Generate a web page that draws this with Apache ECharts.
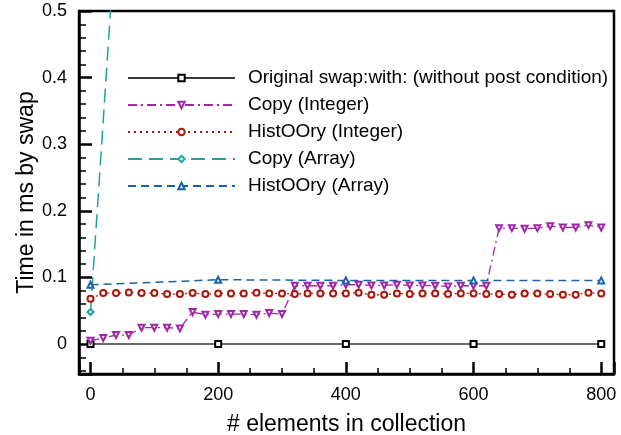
<!DOCTYPE html>
<html>
<head>
<meta charset="utf-8">
<script src="https://cdn.jsdelivr.net/npm/echarts@6/dist/echarts.min.js"></script>
<style>
  html, body { margin: 0; padding: 0; background: #fff; }
  #chart { width: 621px; height: 435px; }
</style>
</head>
<body>
<div id="chart"></div>
<script>
// x positions (number of elements)
var xFine = [0, 20, 40, 60, 80, 100, 120, 140, 160, 180, 200, 220, 240, 260, 280, 300,
  320, 340, 360, 380, 400, 420, 440, 460, 480, 500, 520, 540, 560, 580, 600, 620,
  640, 660, 680, 700, 720, 740, 760, 780, 800];
var xCoarse = [0, 200, 400, 600, 800];

// time in ms by swap
var originalSwap = [0, 0, 0, 0, 0];
var copyInteger = [0.005, 0.009, 0.0135, 0.0135, 0.0245, 0.0245, 0.0245, 0.0235, 0.048, 0.044,
  0.045, 0.045, 0.045, 0.044, 0.0465, 0.045, 0.0875, 0.0875, 0.0875, 0.0875,
  0.089, 0.089, 0.088, 0.088, 0.089, 0.088, 0.088, 0.0875, 0.0865, 0.0875,
  0.0875, 0.0875, 0.174, 0.174, 0.173, 0.174, 0.177, 0.175, 0.175, 0.1785, 0.175];
var histInteger = [0.068, 0.0765, 0.0765, 0.0775, 0.0765, 0.0765, 0.075, 0.075, 0.0765, 0.075,
  0.076, 0.076, 0.076, 0.077, 0.076, 0.076, 0.075, 0.076, 0.076, 0.076,
  0.076, 0.077, 0.074, 0.074, 0.076, 0.075, 0.076, 0.076, 0.075, 0.076,
  0.076, 0.075, 0.075, 0.074, 0.076, 0.076, 0.075, 0.074, 0.074, 0.077, 0.076];
var copyArrayX = [0, 200];
var copyArray = [0.048, 2.93];
var histArray = [0.089, 0.0965, 0.0955, 0.0955, 0.0955];

var seriesNames = ['Original swap:with: (without post condition)', 'Copy (Integer)',
  'HistOOry (Integer)', 'Copy (Array)', 'HistOOry (Array)'];

function pairs(xs, ys) {
  var out = [];
  for (var i = 0; i < ys.length; i++) out.push([xs[i], ys[i]]);
  return out;
}

var FONT = 'Liberation Sans';

var chart = echarts.init(document.getElementById('chart'), null, { renderer: 'canvas' });

chart.setOption({
  animation: false,
  backgroundColor: '#fff',
  grid: {
    left: 79, top: 11, width: 535, height: 363,
    outerBoundsMode: 'none',
    containLabel: false,
    show: true, borderColor: '#000', borderWidth: 2.5, backgroundColor: 'transparent'
  },
  legend: {
    orient: 'vertical',
    left: 127, top: 68,
    padding: 0,
    itemWidth: 107,
    itemHeight: 8,
    itemGap: 7,
    textStyle: { fontFamily: FONT, fontSize: 19, color: '#000', lineHeight: 20, padding: [0, 0, 0, 8] },
    data: seriesNames
  },
  xAxis: {
    type: 'value',
    min: -18, max: 820,
    splitNumber: 4,
    name: '# elements in collection',
    nameLocation: 'middle',
    nameGap: 39,
    nameMoveOverlap: false,
    nameTextStyle: { fontFamily: FONT, fontSize: 23, color: '#000' },
    axisLine: { onZero: false, lineStyle: { color: '#000', width: 2.5 } },
    axisTick: { inside: true, length: 12, lineStyle: { color: '#000', width: 2.5 } },
    minorTick: { show: true, splitNumber: 4, length: 6, lineStyle: { color: '#000', width: 1.5 } },
    axisLabel: { fontFamily: FONT, fontSize: 18, color: '#000', margin: 12, showMinLabel: false, showMaxLabel: false },
    splitLine: { show: false }
  },
  yAxis: {
    type: 'value',
    min: -0.045, max: 0.5,
    splitNumber: 5,
    name: 'Time in ms by swap',
    nameLocation: 'middle',
    nameGap: 41,
    nameMoveOverlap: false,
    nameTextStyle: { fontFamily: FONT, fontSize: 23, color: '#000' },
    axisLine: { onZero: false, lineStyle: { color: '#000', width: 2.5 } },
    axisTick: { inside: true, length: 13, lineStyle: { color: '#000', width: 2.5 } },
    minorTick: { show: true, splitNumber: 5, length: 7, lineStyle: { color: '#000', width: 1.5 } },
    axisLabel: { fontFamily: FONT, fontSize: 18, color: '#000', margin: 12, showMinLabel: false },
    splitLine: { show: false }
  },
  series: [
    {
      name: seriesNames[0], type: 'line',
      data: pairs(xCoarse, originalSwap),
      symbol: 'emptyRect', symbolSize: 6,
      lineStyle: { color: '#3a3a3a', width: 1.5, type: 'solid' },
      itemStyle: { color: '#000', borderColor: '#000', borderWidth: 1.5 },
      z: 2
    },
    {
      name: seriesNames[1], type: 'line',
      data: pairs(xFine, copyInteger),
      symbol: 'emptyTriangle', symbolRotate: 180, symbolSize: 6,
      lineStyle: { color: '#a126a8', width: 1.3, type: [9, 4, 2, 4] },
      itemStyle: { color: '#a126a8', borderColor: '#a126a8', borderWidth: 1.3 },
      z: 3
    },
    {
      name: seriesNames[2], type: 'line',
      data: pairs(xFine, histInteger),
      symbol: 'emptyCircle', symbolSize: 6,
      lineStyle: { color: '#a8180c', width: 1.3, type: [2, 4] },
      itemStyle: { color: '#a8180c', borderColor: '#a8180c', borderWidth: 1.3 },
      z: 3
    },
    {
      name: seriesNames[3], type: 'line',
      data: pairs(copyArrayX, copyArray),
      symbol: 'emptyDiamond', symbolSize: 6,
      lineStyle: { color: '#23a0a0', width: 1.5, type: [14, 7] },
      itemStyle: { color: '#23a0a0', borderColor: '#23a0a0', borderWidth: 1.3 },
      z: 3
    },
    {
      name: seriesNames[4], type: 'line',
      data: pairs(xCoarse, histArray),
      symbol: 'emptyTriangle', symbolSize: 6,
      lineStyle: { color: '#1a62a8', width: 1.5, type: [8, 5] },
      itemStyle: { color: '#1a62a8', borderColor: '#1a62a8', borderWidth: 1.3 },
      z: 3
    }
  ]
});
</script>
</body>
</html>
